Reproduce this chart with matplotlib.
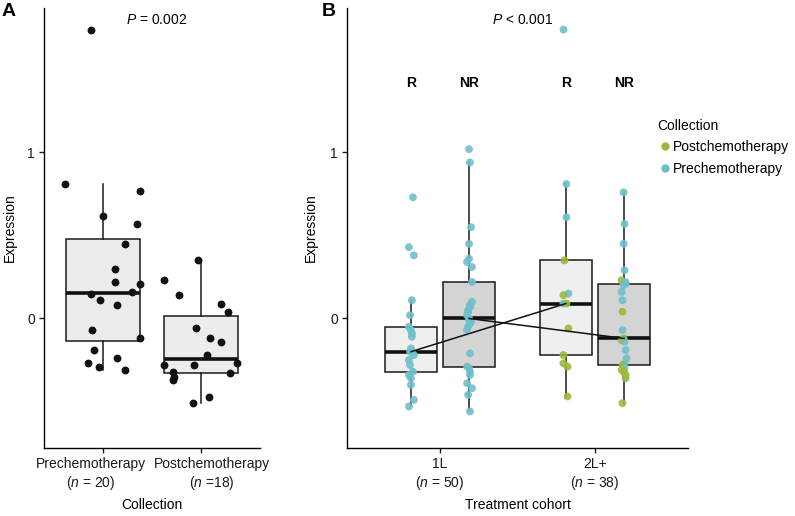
import matplotlib.pyplot as plt
import matplotlib.transforms as mtransforms
from matplotlib.lines import Line2D
import numpy as np

plt.rcParams['font.family'] = ['Liberation Sans', 'DejaVu Sans']
plt.rcParams['mathtext.fontset'] = 'custom'
plt.rcParams['mathtext.rm'] = 'Liberation Sans'
plt.rcParams['mathtext.it'] = 'Liberation Sans:italic'
plt.rcParams['font.size'] = 10

# ---- panel A data: expression by collection (jitter = read x offset of each point)
collection_labels = ['Prechemotherapy\n($n$ = 20)', 'Postchemotherapy\n($n$ =18)']
pre_expr = [1.74, 0.81, 0.77, 0.62, 0.57, 0.45, 0.30, 0.22, 0.21, 0.16,
            0.15, 0.11, 0.08, -0.07, -0.12, -0.19, -0.24, -0.27, -0.29, -0.31]
pre_jitter = [-0.12, -0.39, 0.38, 0.0, 0.35, 0.22, 0.12, 0.12, 0.38, 0.30,
              -0.12, -0.03, 0.14, -0.11, 0.38, -0.09, 0.14, -0.15, -0.04, 0.23]
post_expr = [0.35, 0.23, 0.14, 0.09, 0.04, -0.06, -0.12, -0.14, -0.22, -0.27,
             -0.28, -0.28, -0.32, -0.33, -0.35, -0.37, -0.47, -0.51]
post_jitter = [-0.03, -0.38, -0.23, 0.20, 0.27, -0.05, 0.09, 0.20, 0.06, 0.37,
               -0.38, -0.07, -0.29, 0.29, -0.28, -0.29, 0.08, -0.08]

# ---- panel B data: expression by treatment cohort and response
cohort_labels = ['1L\n($n$ = 50)', '2L+\n($n$ = 38)']
response_labels = ['R', 'NR']

l1_r_expr = [0.73, 0.43, 0.38, 0.11, 0.02, -0.05, -0.07, -0.09, -0.11, -0.18, -0.20,
             -0.20, -0.22, -0.25, -0.28, -0.32, -0.34, -0.36, -0.40, -0.49, -0.53]
l1_r_jitter = [0.013, -0.013, 0.019, 0.006, -0.006, -0.013, 0.0, 0.006, 0.006, 0.0, 0.006,
               -0.006, 0.019, -0.013, -0.006, 0.013, -0.013, 0.0, 0.0, 0.019, -0.013]
l1_r_coll = ['Pre'] * 21

l1_nr_expr = [1.02, 0.94, 0.55, 0.45, 0.36, 0.34, 0.31, 0.22, 0.10, 0.08, 0.07, 0.05, 0.04,
              0.02, 0.00, -0.01, -0.02, -0.03, -0.05, -0.07, -0.21, -0.29, -0.30, -0.32,
              -0.34, -0.39, -0.42, -0.46, -0.56]
l1_nr_jitter = [0.0, 0.006, 0.013, 0.0, 0.0, -0.013, 0.019, 0.019, 0.019, 0.006, 0.006, -0.006,
                -0.006, -0.013, 0.0, 0.0, 0.013, 0.006, -0.006, -0.013, 0.006, -0.013, 0.0,
                0.006, 0.006, -0.013, 0.019, -0.006, 0.006]
l1_nr_coll = ['Pre'] * 29

l2_r_expr = [1.74, 0.81, 0.61, 0.35, 0.15, 0.14, 0.09, 0.09, -0.06, -0.22, -0.27, -0.29, -0.47]
l2_r_jitter = [-0.016, 0.003, 0.003, -0.01, 0.016, -0.016, -0.016, 0.003, 0.016, -0.016,
               -0.016, 0.01, 0.01]
l2_r_coll = ['Pre', 'Pre', 'Pre', 'Post', 'Pre', 'Post', 'Pre', 'Post', 'Post', 'Post',
             'Post', 'Post', 'Post']

l2_nr_expr = [0.76, 0.57, 0.45, 0.29, 0.23, 0.22, 0.21, 0.20, 0.16, 0.11, 0.04, -0.07, -0.12,
              -0.13, -0.14, -0.19, -0.24, -0.27, -0.28, -0.30, -0.31, -0.32, -0.34, -0.36, -0.51]
l2_nr_jitter = [-0.003, 0.003, -0.003, 0.003, -0.016, 0.01, 0.01, -0.003, -0.016, -0.01, -0.01,
                -0.01, -0.003, -0.016, 0.003, 0.01, 0.016, 0.003, -0.01, 0.003, -0.016, -0.003,
                0.01, 0.01, -0.01]
l2_nr_coll = ['Pre', 'Pre', 'Pre', 'Pre', 'Post', 'Pre', 'Pre', 'Pre', 'Pre', 'Pre', 'Post',
              'Pre', 'Post', 'Post', 'Pre', 'Pre', 'Pre', 'Pre', 'Post', 'Pre', 'Post', 'Post',
              'Post', 'Post', 'Post']

coll_colors = {'Post': '#9db83a', 'Pre': '#6fbfcc'}
edge = '#1a1a1a'


def draw_box(ax, data, pos, width, fill):
    ax.boxplot([data], positions=[pos], widths=width, patch_artist=True,
               showfliers=False, showcaps=False, manage_ticks=False,
               boxprops=dict(facecolor=fill, edgecolor=edge, linewidth=1.1),
               whiskerprops=dict(color=edge, linewidth=1.1),
               medianprops=dict(color='#111111', linewidth=2.6, solid_capstyle='butt'),
               zorder=1)


def style_axes(ax):
    ax.spines['top'].set_visible(False)
    ax.spines['right'].set_visible(False)
    ax.spines['left'].set_linewidth(1.0)
    ax.spines['bottom'].set_linewidth(1.0)
    ax.set_ylim(-0.78, 1.87)
    ax.set_xlim(0.4, 2.6)
    ax.set_yticks([0, 1])
    ax.set_yticklabels(['0', '1'])
    ax.tick_params(length=3.5, width=1.0, labelsize=10, colors='#1a1a1a', pad=3)


fig = plt.figure(figsize=(7.95, 5.16), dpi=100)

# ---------------- panel A
axA = fig.add_axes([44 / 795, 68 / 516, 216 / 795, 440 / 516])
style_axes(axA)
draw_box(axA, pre_expr, 1, 0.75, '#ececec')
draw_box(axA, post_expr, 2, 0.75, '#ececec')
axA.scatter(1 + np.array(pre_jitter), pre_expr, s=32, color='#111111', zorder=3, linewidths=0)
axA.scatter(2 + np.array(post_jitter), post_expr, s=32, color='#111111', zorder=3, linewidths=0)
axA.set_xticks([1, 2])
axA.set_xticklabels(collection_labels)
# the two long labels are pushed apart a little, as in the original figure
for lab, dx in zip(axA.get_xticklabels(), [-12, 11]):
    lab.set_transform(lab.get_transform() +
                      mtransforms.ScaledTranslation(dx / 100, 0, fig.dpi_scale_trans))
axA.set_xlabel('Collection', fontsize=10)
axA.xaxis.set_label_coords(0.5, -57 / 440)
axA.xaxis.label.set_va('center')
axA.set_ylabel('Expression', fontsize=10)
axA.yaxis.set_label_coords(-27 / 216, 0.5)
axA.text(1.55, 1.80, '$P$ = 0.002', ha='center', va='center', fontsize=10)

# ---------------- panel B
axB = fig.add_axes([347 / 795, 68 / 516, 341 / 795, 440 / 516])
style_axes(axB)
dodge = 0.1875
bw = 0.3375
groups = [
    (1 - dodge, l1_r_expr, l1_r_jitter, l1_r_coll, '#efefef', 'R'),
    (1 + dodge, l1_nr_expr, l1_nr_jitter, l1_nr_coll, '#d4d4d4', 'NR'),
    (2 - dodge, l2_r_expr, l2_r_jitter, l2_r_coll, '#efefef', 'R'),
    (2 + dodge, l2_nr_expr, l2_nr_jitter, l2_nr_coll, '#d4d4d4', 'NR'),
]
for pos, vals, jit, coll, fill, lab in groups:
    draw_box(axB, vals, pos, bw, fill)
    axB.scatter(pos + np.array(jit), vals, s=32, c=[coll_colors[c] for c in coll],
                alpha=0.9, zorder=3, linewidths=0)
    axB.text(pos, 1.42, lab, ha='center', va='center', fontsize=10, fontweight='bold')

# lines joining medians of the same response across cohorts
axB.plot([1 - dodge, 2 - dodge], [np.median(l1_r_expr), np.median(l2_r_expr)],
         color='#111111', linewidth=1.1, zorder=4)
axB.plot([1 + dodge, 2 + dodge], [np.median(l1_nr_expr), np.median(l2_nr_expr)],
         color='#111111', linewidth=1.1, zorder=4)

axB.set_xticks([1, 2])
axB.set_xticklabels(cohort_labels)
axB.set_xlabel('Treatment cohort', fontsize=10)
axB.xaxis.set_label_coords(0.5, -57 / 440)
axB.xaxis.label.set_va('center')
axB.set_ylabel('Expression', fontsize=10)
axB.yaxis.set_label_coords(-29 / 341, 0.5)
axB.text(1.53, 1.80, '$P$ < 0.001', ha='center', va='center', fontsize=10)

handles = [Line2D([], [], marker='o', linestyle='', color=coll_colors['Post'], markersize=5),
           Line2D([], [], marker='o', linestyle='', color=coll_colors['Pre'], markersize=5)]
fig.legend(handles, ['Postchemotherapy', 'Prechemotherapy'], title='Collection',
           loc='upper left', bbox_to_anchor=(652 / 795, 1 - 113 / 516), frameon=False,
           fontsize=10, title_fontsize=10, alignment='left', handletextpad=0.1,
           handlelength=1.0, labelspacing=0.55, borderaxespad=0)

fig.text(2 / 795, 1 - 12 / 516, 'A', fontsize=14, fontweight='bold', va='center')
fig.text(322 / 795, 1 - 12 / 516, 'B', fontsize=14, fontweight='bold', va='center')

fig.savefig('out.png', dpi=100)
